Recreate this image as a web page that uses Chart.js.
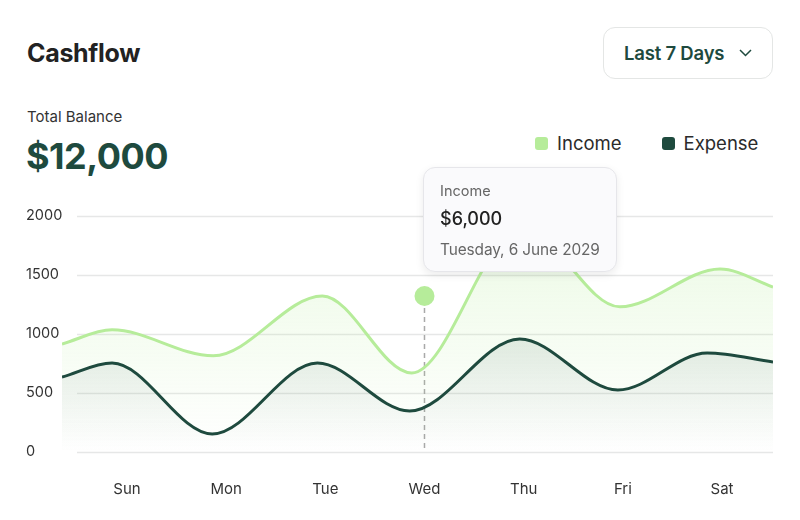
<!DOCTYPE html>
<html>
<head>
<meta charset="utf-8">
<title>Cashflow</title>
<script src="https://cdn.jsdelivr.net/npm/chart.js@4.4.1/dist/chart.umd.min.js"></script>
<style>
    body { margin: 0; background: #fff; font-family: Inter, "Noto Sans", sans-serif; }
    .card { position: relative; width: 800px; height: 520px; overflow: hidden; }
    .title { position: absolute; left: 27px; top: 38px; font-size: 25px; font-weight: 700; color: #222; letter-spacing: -0.3px; }
    .range-btn { position: absolute; left: 603px; top: 27px; width: 170px; height: 52px; box-sizing: border-box;
        border: 1.5px solid #e4e6e5; border-radius: 12px; display: flex; align-items: center; padding-left: 20px;
        font-size: 18.5px; font-weight: 600; color: #1e4a3e; letter-spacing: -0.2px; white-space: nowrap; }
    .range-btn svg { margin-left: 15px; }
    .balance-label { position: absolute; left: 27px; top: 107px; font-size: 15px; color: #333; }
    .balance { position: absolute; left: 26px; top: 134px; font-size: 36px; font-weight: 700; color: #1e4a3e; letter-spacing: -0.5px; }
    .legend { position: absolute; top: 132px; left: 535px; display: flex; gap: 40px; font-size: 18.5px; color: #2b2b2b; }
    .legend span { display: flex; align-items: center; }
    .legend i { display: inline-block; width: 13px; height: 13px; border-radius: 3px; margin-right: 9px; }
    .chart-box { position: absolute; left: 26px; top: 200px; width: 757px; height: 310px; }
    .tip { position: absolute; left: 423px; top: 167px; width: 194px; height: 105px; box-sizing: border-box;
        background: #fafafc; border: 1px solid #e6e6ea; border-radius: 12px; padding: 14px 16px 0 16px;
        box-shadow: 0 3px 8px rgba(0,0,0,0.08); z-index: 5; white-space: nowrap; }
    .tip .t1 { font-size: 14.5px; color: #666; line-height: 18px; }
    .tip .t2 { font-size: 18px; font-weight: 500; color: #222; line-height: 22px; margin-top: 8px; }
    .tip .t3 { font-size: 15.4px; color: #666; line-height: 20px; margin-top: 10px; letter-spacing: -0.1px; }
</style>
</head>
<body>
<div class="card">
    <div class="title">Cashflow</div>
    <div class="range-btn">Last 7 Days
        <svg width="13" height="8" viewBox="0 0 13 8"><path d="M1 1 L6.5 6.5 L12 1" fill="none" stroke="#1e4a3e" stroke-width="1.5"/></svg>
    </div>
    <div class="balance-label">Total Balance</div>
    <div class="balance">$12,000</div>
    <div class="legend">
        <span><i style="background:#b6ec9a"></i>Income</span>
        <span><i style="background:#1e4a3e"></i>Expense</span>
    </div>
    <div class="tip">
        <div class="t1">Income</div>
        <div class="t2">$6,000</div>
        <div class="t3">Tuesday, 6 June 2029</div>
    </div>
    <div class="chart-box"><canvas id="cashflowChart"></canvas></div>
</div>
<script>
// Chart values
const days = ['Sun', 'Mon', 'Tue', 'Wed', 'Thu', 'Fri', 'Sat'];
const yTicks = [0, 500, 1000, 1500, 2000];

// x is a position along the day axis (0 = Sun), curve turning points
const incomeX = [-0.655, -0.15, 0.87, 1.97, 2.87, 3.98, 4.97, 5.98, 6.514];
const incomeY = [915, 1035, 815, 1322, 670, 1900, 1230, 1550, 1398];
const expenseX = [-0.655, -0.15, 0.86, 1.92, 2.85, 3.96, 4.95, 5.85, 6.514];
const expenseY = [635, 754, 153, 754, 347, 958, 525, 839, 763];

// highlighted point (Wed)
const markerX = [3];
const markerY = [1322];

const incomeColor = '#b6ec9a';
const expenseColor = '#1e4a3e';

function toPoints(xs, ys) {
    return xs.map((x, i) => ({ x: x, y: ys[i] }));
}

function fillGradient(rgb, topAlpha, bottomAlpha) {
    return function(context) {
        const area = context.chart.chartArea;
        if (!area) return 'rgba(' + rgb + ',' + topAlpha + ')';
        const g = context.chart.ctx.createLinearGradient(0, area.top + 60, 0, area.bottom);
        g.addColorStop(0, 'rgba(' + rgb + ',' + topAlpha + ')');
        g.addColorStop(1, 'rgba(' + rgb + ',' + bottomAlpha + ')');
        return g;
    };
}

// horizontal grid lines start a little right of the plot edge, as in the design
const gridPlugin = {
    id: 'softGrid',
    beforeDatasetsDraw(chart) {
        const ctx = chart.ctx;
        const area = chart.chartArea;
        const y = chart.scales.y;
        ctx.save();
        ctx.strokeStyle = '#e6e7e7';
        ctx.lineWidth = 1.5;
        yTicks.forEach(v => {
            const py = Math.round(y.getPixelForValue(v)) + 0.5;
            ctx.beginPath();
            ctx.moveTo(area.left + 15, py);
            ctx.lineTo(area.right, py);
            ctx.stroke();
        });
        ctx.restore();
    }
};

// dashed drop line under the highlighted point
const dropLinePlugin = {
    id: 'dropLine',
    beforeDatasetsDraw(chart) {
        const meta = chart.getDatasetMeta(2);
        if (!meta.data.length) return;
        const pt = meta.data[0];
        const ctx = chart.ctx;
        ctx.save();
        ctx.strokeStyle = '#a9a9a9';
        ctx.lineWidth = 1.5;
        ctx.setLineDash([5, 4]);
        ctx.beginPath();
        ctx.moveTo(pt.x, pt.y + 12);
        ctx.lineTo(pt.x, chart.chartArea.bottom);
        ctx.stroke();
        ctx.restore();
    }
};

const ctx = document.getElementById('cashflowChart');
new Chart(ctx, {
    type: 'line',
    data: {
        datasets: [{
            label: 'Income',
            data: toPoints(incomeX, incomeY),
            borderColor: incomeColor,
            borderWidth: 3,
            backgroundColor: fillGradient('182,236,154', 0.2, 0.0),
            fill: 'origin',
            cubicInterpolationMode: 'monotone',
            pointRadius: 0,
            order: 2
        }, {
            label: 'Expense',
            data: toPoints(expenseX, expenseY),
            borderColor: expenseColor,
            borderWidth: 3,
            backgroundColor: fillGradient('30,74,62', 0.16, 0.0),
            fill: 'origin',
            cubicInterpolationMode: 'monotone',
            pointRadius: 0,
            order: 1
        }, {
            label: 'Selected',
            data: toPoints(markerX, markerY),
            showLine: false,
            pointRadius: 10,
            pointBackgroundColor: incomeColor,
            pointBorderWidth: 0,
            order: 0
        }]
    },
    options: {
        responsive: true,
        maintainAspectRatio: false,
        animation: false,
        layout: { padding: { top: 16, right: 0, left: 0, bottom: 0 } },
        plugins: {
            legend: { display: false },
            tooltip: { enabled: false }
        },
        scales: {
            x: {
                type: 'linear',
                min: incomeX[0],
                max: incomeX[incomeX.length - 1],
                afterBuildTicks(scale) {
                    scale.ticks = days.map((d, i) => ({ value: i }));
                },
                afterFit(scale) { scale.height = 58; },
                grid: { display: false, drawTicks: false },
                border: { display: false },
                ticks: {
                    autoSkip: false,
                    maxRotation: 0,
                    padding: 28,
                    color: '#333',
                    font: { family: 'Inter', size: 15 },
                    callback: v => days[v]
                }
            },
            y: {
                min: 0,
                max: 2000,
                afterBuildTicks(scale) {
                    scale.ticks = yTicks.map(v => ({ value: v }));
                },
                afterFit(scale) { scale.width = 36; },
                grid: { display: false, drawTicks: false },
                border: { display: false },
                ticks: {
                    crossAlign: 'far',
                    padding: 0,
                    color: '#333',
                    font: { family: 'Inter', size: 14.5 },
                    callback: v => String(v)
                }
            }
        }
    },
    plugins: [gridPlugin, dropLinePlugin]
});
</script>
</body>
</html>
